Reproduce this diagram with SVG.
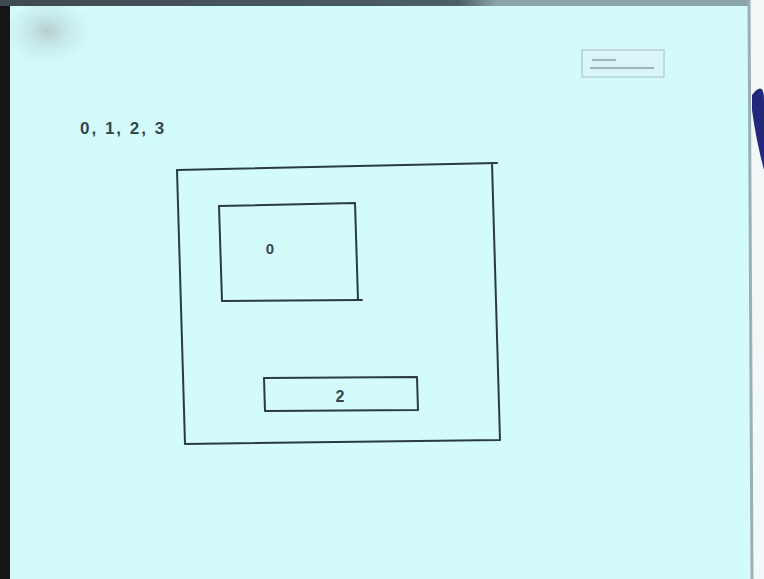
<svg xmlns="http://www.w3.org/2000/svg" width="764" height="579" viewBox="0 0 764 579">
<defs>
<style>
.ink{fill:none;stroke:#2a3a40;stroke-width:2;stroke-linecap:round;stroke-linejoin:round}
.hand{font-family:"Liberation Sans",Arial,sans-serif;fill:#33474d;font-weight:bold}
</style>
<radialGradient id="smudge" cx="0.45" cy="0.4" r="0.6">
<stop offset="0" stop-color="#b0c8ca" stop-opacity="0.9"/>
<stop offset="1" stop-color="#d4fbfc" stop-opacity="0"/>
</radialGradient>
<linearGradient id="topbar" x1="0" y1="0" x2="1" y2="0">
<stop offset="0" stop-color="#3e4a50"/>
<stop offset="0.6" stop-color="#4e5e66"/>
<stop offset="0.65" stop-color="#8aa4aa"/>
<stop offset="1" stop-color="#8aa4aa"/>
</linearGradient>
</defs>
<rect width="764" height="579" fill="#d4fbfc"/>
<ellipse cx="52" cy="38" rx="48" ry="36" fill="url(#smudge)"/>
<rect x="0" y="0" width="10" height="579" fill="#161616"/>
<rect x="0" y="0" width="764" height="6" fill="url(#topbar)"/>
<rect x="750" y="0" width="14" height="579" fill="#f2f8f8"/>
<line x1="749" y1="0" x2="752" y2="579" stroke="#9ab0b4" stroke-width="3"/>
<path d="M752 95 Q764 80 764 100 L764 170 Q756 140 752 110 Z" fill="#22287a"/>
<g id="sticker">
<rect x="582" y="50" width="82" height="27" fill="#d8f6f8" stroke="#b8d0d4" stroke-width="1.5"/>
<line x1="592" y1="60" x2="616" y2="60" stroke="#9ab4b8" stroke-width="2"/>
<line x1="590" y1="68" x2="654" y2="68" stroke="#9ab4b8" stroke-width="2"/>
</g>
<g id="label-list"><text class="hand" x="80" y="134" font-size="17" letter-spacing="2">0, 1, 2, 3</text></g>
<g id="outer"><path class="ink" d="M177 170 L497 163 M492 163 L500 440 M500 440 L185 444 M185 444 L177 170"/></g>
<g id="box0">
<path class="ink" d="M219 206 L355 203 L358 300 M362 300 L222 301 L219 206"/>
<text class="hand" x="270" y="254" font-size="15" text-anchor="middle">0</text>
</g>
<g id="box2">
<path class="ink" d="M264 378 L417 377 L418 410 L265 411 Z"/>
<text class="hand" x="340" y="402" font-size="16" text-anchor="middle">2</text>
</g>
<g id="connectors"></g>
</svg>
